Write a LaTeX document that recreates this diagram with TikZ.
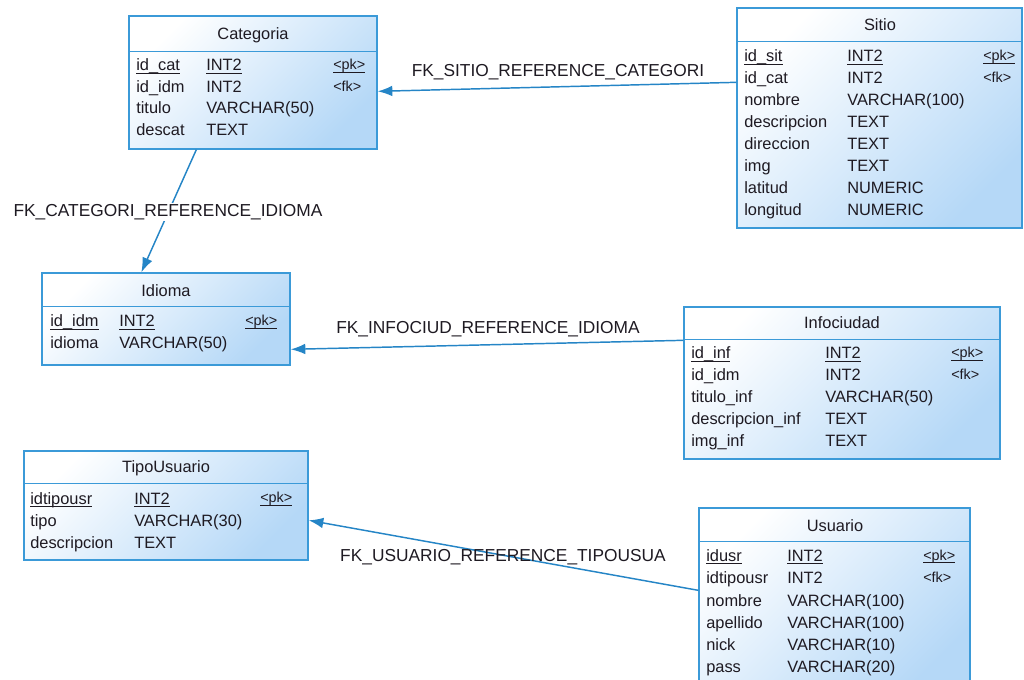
\documentclass[tikz,border=0pt]{standalone}
\usepackage{fontspec}
\setmainfont{Liberation Sans}
\usetikzlibrary{arrows.meta,fit,calc}
\definecolor{bline}{HTML}{3B9AD8}
\definecolor{cline}{HTML}{2585C6}
\definecolor{bfill}{HTML}{B5D8F7}
\definecolor{txt}{HTML}{1E1A22}
\newcommand\ulx[1]{\setbox0\hbox{#1}\rlap{\rule[-2.2pt]{\wd0}{0.65pt}}\box0}
\begin{document}
\begin{tikzpicture}[x=0.75pt,y=-0.75pt,
 tbl/.style={draw=bline, line width=1pt, top color=white, bottom color=bfill, shading angle=45, inner sep=0pt},
 sepline/.style={draw=bline, line width=1pt},
 ttl/.style={anchor=base, inner sep=0pt, text=txt, font=\fontsize{12.3}{14}\selectfont},
 fld/.style={anchor=base west, inner sep=0pt, text=txt, font=\fontsize{12.3}{14}\selectfont},
 keyt/.style={anchor=base west, inner sep=0pt, text=txt, font=\fontsize{10.8}{12}\selectfont},
 fkline/.style={draw=cline, line width=1.1pt, -{Latex[length=11pt,width=8pt]}},
 lbl/.style={inner sep=1pt, text=txt, font=\fontsize{13}{15}\selectfont},
]
\useasboundingbox (0,0) rectangle (1024,680);
\clip (0,0) rectangle (1024,680);

% ---------- Categoria ----------
\node[tbl, fit={(129,16) (377,149)}] (categoria) {};
\draw[sepline] ($(categoria.north west)+(0,36)$) -- ($(categoria.north east)+(0,36)$);
\node[ttl] (categoriaT) at (253,40) {Categoria};
\node[fld] (cat1n) at (136,71) {\ulx{id\_cat}};
\node[fld] (cat1t) at (206,71) {\ulx{INT2}};
\node[keyt] (cat1k) at (333,70) {\ulx{<pk>}};
\node[fld] (cat2n) at (136,93) {id\_idm};
\node[fld] (cat2t) at (206,93) {INT2};
\node[keyt] (cat2k) at (333,92) {<fk>};
\node[fld] (cat3n) at (136,114) {titulo};
\node[fld] (cat3t) at (206,114) {VARCHAR(50)};
\node[fld] (cat4n) at (136,136) {descat};
\node[fld] (cat4t) at (206,136) {TEXT};

% ---------- Sitio ----------
\node[tbl, fit={(737,8) (1022,228)}] (sitio) {};
\draw[sepline] ($(sitio.north west)+(0,34)$) -- ($(sitio.north east)+(0,34)$);
\node[ttl] (sitioT) at (880,31) {Sitio};
\node[fld] (s1n) at (744,62) {\ulx{id\_sit}};
\node[fld] (s1t) at (847,62) {\ulx{INT2}};
\node[keyt] (s1k) at (983,61) {\ulx{<pk>}};
\node[fld] (s2n) at (744,84) {id\_cat};
\node[fld] (s2t) at (847,84) {INT2};
\node[keyt] (s2k) at (983,83) {<fk>};
\node[fld] (s3n) at (744,106) {nombre};
\node[fld] (s3t) at (847,106) {VARCHAR(100)};
\node[fld] (s4n) at (744,128) {descripcion};
\node[fld] (s4t) at (847,128) {TEXT};
\node[fld] (s5n) at (744,150) {direccion};
\node[fld] (s5t) at (847,150) {TEXT};
\node[fld] (s6n) at (744,172) {img};
\node[fld] (s6t) at (847,172) {TEXT};
\node[fld] (s7n) at (744,194) {latitud};
\node[fld] (s7t) at (847,194) {NUMERIC};
\node[fld] (s8n) at (744,216) {longitud};
\node[fld] (s8t) at (847,216) {NUMERIC};

% ---------- Idioma ----------
\node[tbl, fit={(42,273) (290,365)}] (idioma) {};
\draw[sepline] ($(idioma.north west)+(0,34)$) -- ($(idioma.north east)+(0,34)$);
\node[ttl] (idiomaT) at (166,297) {Idioma};
\node[fld] (i1n) at (50,327) {\ulx{id\_idm}};
\node[fld] (i1t) at (119,327) {\ulx{INT2}};
\node[keyt] (i1k) at (245,326) {\ulx{<pk>}};
\node[fld] (i2n) at (50,349) {idioma};
\node[fld] (i2t) at (119,349) {VARCHAR(50)};

% ---------- Infociudad ----------
\node[tbl, fit={(684,307) (1000,459)}] (infociudad) {};
\draw[sepline] ($(infociudad.north west)+(0,33)$) -- ($(infociudad.north east)+(0,33)$);
\node[ttl] (infociudadT) at (842,329) {Infociudad};
\node[fld] (f1n) at (691,359) {\ulx{id\_inf}};
\node[fld] (f1t) at (825,359) {\ulx{INT2}};
\node[keyt] (f1k) at (951,358) {\ulx{<pk>}};
\node[fld] (f2n) at (691,381) {id\_idm};
\node[fld] (f2t) at (825,381) {INT2};
\node[keyt] (f2k) at (951,380) {<fk>};
\node[fld] (f3n) at (691,403) {titulo\_inf};
\node[fld] (f3t) at (825,403) {VARCHAR(50)};
\node[fld] (f4n) at (691,425) {descripcion\_inf};
\node[fld] (f4t) at (825,425) {TEXT};
\node[fld] (f5n) at (691,447) {img\_inf};
\node[fld] (f5t) at (825,447) {TEXT};

% ---------- TipoUsuario ----------
\node[tbl, fit={(24,451) (308,560)}] (tipousuario) {};
\draw[sepline] ($(tipousuario.north west)+(0,33)$) -- ($(tipousuario.north east)+(0,33)$);
\node[ttl] (tipousuarioT) at (166,473) {TipoUsuario};
\node[fld] (t1n) at (30,504) {\ulx{idtipousr}};
\node[fld] (t1t) at (134,504) {\ulx{INT2}};
\node[keyt] (t1k) at (260,503) {\ulx{<pk>}};
\node[fld] (t2n) at (30,526) {tipo};
\node[fld] (t2t) at (134,526) {VARCHAR(30)};
\node[fld] (t3n) at (30,548) {descripcion};
\node[fld] (t3t) at (134,548) {TEXT};

% ---------- Usuario ----------
\node[tbl, fit={(699,508) (970,695)}] (usuario) {};
\draw[sepline] ($(usuario.north west)+(0,34)$) -- ($(usuario.north east)+(0,34)$);
\node[ttl] (usuarioT) at (835,531) {Usuario};
\node[fld] (u1n) at (706,561) {\ulx{idusr}};
\node[fld] (u1t) at (787,561) {\ulx{INT2}};
\node[keyt] (u1k) at (923,560) {\ulx{<pk>}};
\node[fld] (u2n) at (706,583) {idtipousr};
\node[fld] (u2t) at (787,583) {INT2};
\node[keyt] (u2k) at (923,582) {<fk>};
\node[fld] (u3n) at (706,606) {nombre};
\node[fld] (u3t) at (787,606) {VARCHAR(100)};
\node[fld] (u4n) at (706,628) {apellido};
\node[fld] (u4t) at (787,628) {VARCHAR(100)};
\node[fld] (u5n) at (706,650) {nick};
\node[fld] (u5t) at (787,650) {VARCHAR(10)};
\node[fld] (u6n) at (706,672) {pass};
\node[fld] (u6t) at (787,672) {VARCHAR(20)};

% ---------- Connectors ----------
\draw[fkline] ($(sitio.north west)+(0,75)$) -- ($(categoria.north east)+(0,76)$);
\node[lbl] (lab1) at (558,72) {FK\_SITIO\_REFERENCE\_CATEGORI};

\draw[fkline] ($(categoria.south west)+(68,0)$) -- ($(idioma.north west)+(100,0)$);
\node[lbl, fill=white] (lab2) at (168,212) {FK\_CATEGORI\_REFERENCE\_IDIOMA};

\draw[fkline] ($(infociudad.north west)+(0,34)$) -- ($(idioma.north east)+(0,77)$);
\node[lbl] (lab3) at (488,329) {FK\_INFOCIUD\_REFERENCE\_IDIOMA};

\draw[fkline] ($(usuario.north west)+(0,83)$) -- ($(tipousuario.north east)+(0,70)$);
\node[lbl] (lab4) at (503,557) {FK\_USUARIO\_REFERENCE\_TIPOUSUA};
\end{tikzpicture}
\end{document}
